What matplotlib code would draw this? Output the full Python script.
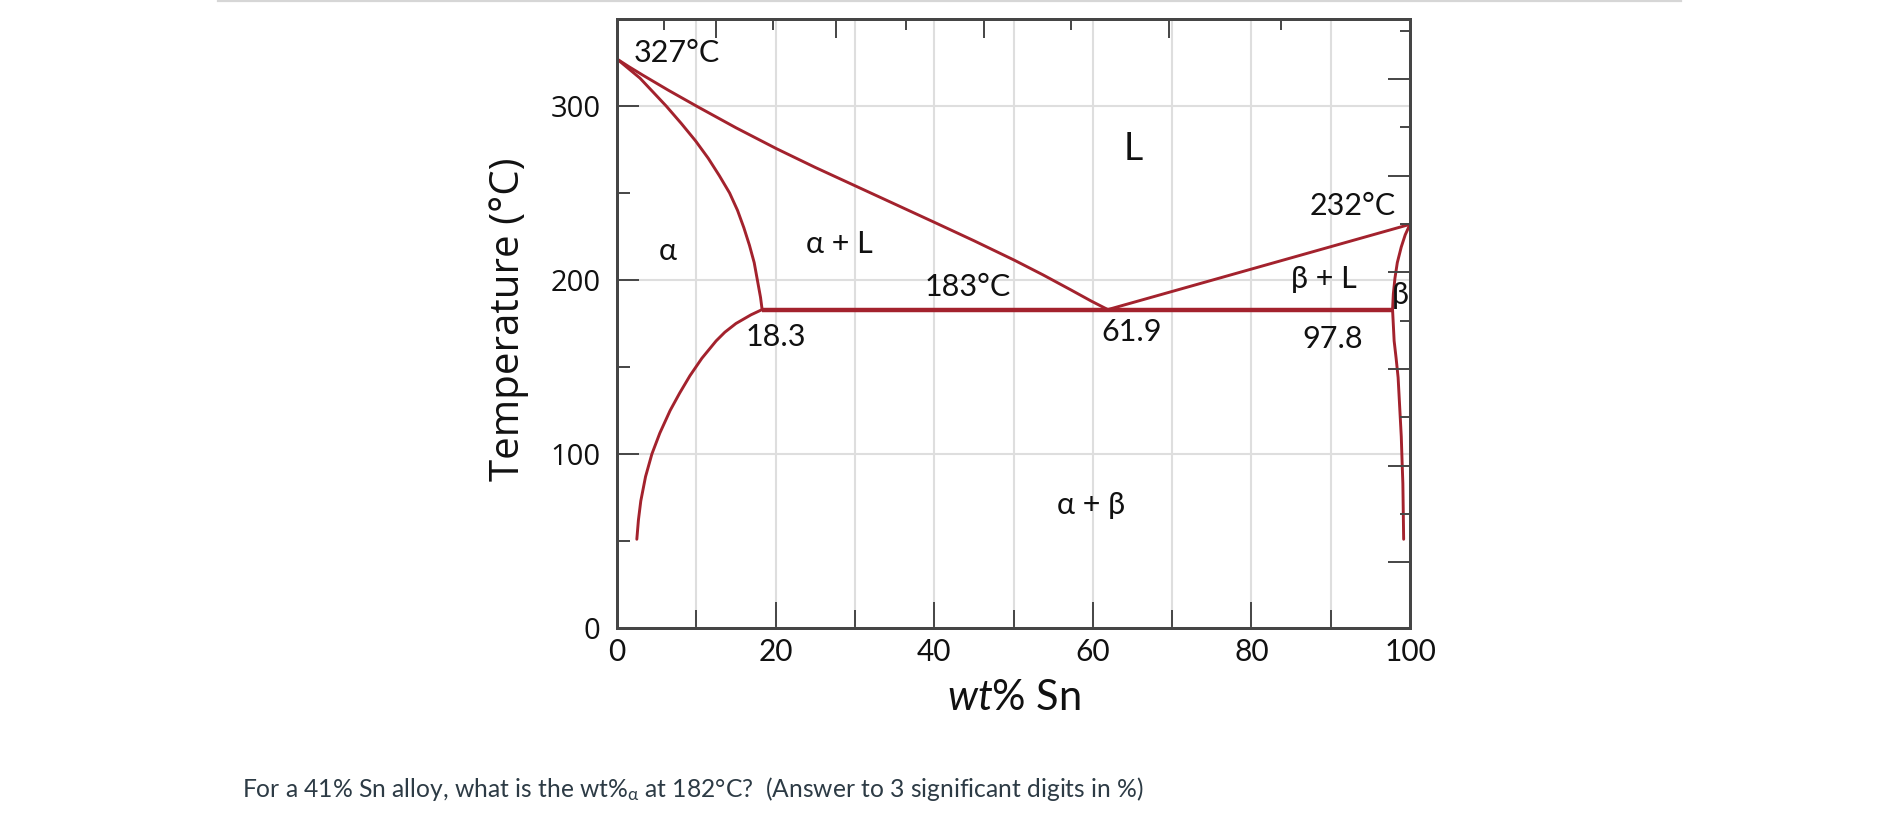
import matplotlib
matplotlib.use("Agg")
import matplotlib.pyplot as plt
from matplotlib.lines import Line2D

plt.rcParams['mathtext.fontset'] = 'custom'
plt.rcParams['mathtext.rm'] = 'Lato'
plt.rcParams['mathtext.it'] = 'Lato:italic'
plt.rcParams['mathtext.bf'] = 'Lato:bold'
plt.rcParams['mathtext.fallback'] = 'stixsans'

# Pb-Sn phase boundaries, (wt% Sn, temperature in C)
liq_left_x = [0, 1.5, 3.3, 6.5, 10.2, 15.0, 20.1, 25.0, 30.0, 35.0, 40.0, 45.0,
              50.1, 53.7, 57.2, 59.8, 61.9]
liq_left_t = [327, 322.6, 317.6, 309, 299.5, 287.5, 275.5, 264.7, 254.2, 243.7, 233.2, 222.6,
              211.4, 203, 194.4, 187.9, 183]
sol_left_x = [0, 2.9, 6.2, 8.1, 9.9, 11.5, 12.9, 14.2, 15.2, 16.0, 16.7, 17.3, 17.7, 18.1, 18.3]
sol_left_t = [327, 316, 300, 290, 280, 270, 260, 250, 240, 230, 220, 210, 200, 190, 183]
solv_left_x = [18.3, 16.9, 15.0, 13.6, 12.5, 10.7, 9.2, 7.9, 6.7, 5.4, 4.4, 3.6, 3.0, 2.7, 2.5]
solv_left_t = [183, 180, 175, 170, 165, 155, 145, 135, 125, 112, 100, 87, 73, 62, 51]
liq_right_x = [61.9, 100]
liq_right_t = [183, 232]
sol_right_x = [100, 99.4, 98.9, 98.4, 98.1, 97.9, 97.8]
sol_right_t = [232, 226, 219, 210, 201, 192, 183]
solv_right_x = [97.8, 97.9, 98.0, 98.25, 98.5, 98.7, 98.9, 99.0, 99.1, 99.2]
solv_right_t = [183, 174, 165, 155, 144, 127, 110, 96, 83, 51]
eutectic_x = [18.3, 97.8]
eutectic_t = [183, 183]

x_ticks = [0, 20, 40, 60, 80, 100]
y_ticks = [0, 100, 200, 300]
at_pct = [10, 20, 30, 40, 50, 60, 70, 80, 90]      # top axis, at% Sn
deg_f = [100, 150, 200, 250, 300, 350, 400, 450, 500, 550, 600, 650]  # right axis

question = ("For a 41% Sn alloy, what is the wt%$_{\\mathrm{\u03b1}}$ at 182\u00b0C?  "
            "(Answer to 3 significant digits in %)")

RED = '#a3222d'
SPINE = '#454545'
GRID = '#dedede'
TXT = '#111111'
LATO = ['Lato', 'DejaVu Sans']
OPEN = ['Open Sans', 'DejaVu Sans']


def wt_from_at(a):
    return a * 118.71 / (a * 118.71 + (100 - a) * 207.2)


fig = plt.figure(figsize=(18.89, 8.22), dpi=100)
W, H = 1889, 822
ax = fig.add_axes([617 / W, 1 - 628 / H, (1410 - 617) / W, (628 - 19) / H])
ax.set_xlim(0, 100)
ax.set_ylim(0, 350)

ax.set_xticks(x_ticks, [str(v) for v in x_ticks], fontfamily=LATO, fontsize=21.5, color=TXT)
ax.set_xticks(range(10, 100, 20), minor=True)
ax.set_yticks(y_ticks, [str(v) for v in y_ticks], fontfamily=OPEN, fontsize=21, color=TXT)
ax.set_yticks([50, 150, 250], minor=True)
ax.grid(True, which='both', axis='x', color=GRID, lw=1.5)
ax.grid(True, which='major', axis='y', color=GRID, lw=1.5)
ax.set_axisbelow(True)
ax.tick_params(axis='x', which='major', direction='in', length=18.7, width=1.4, color=SPINE, pad=7)
ax.tick_params(axis='x', which='minor', direction='in', length=12.7, width=1.4, color=SPINE)
ax.tick_params(axis='y', which='major', direction='in', length=15.8, width=1.4, color=SPINE, pad=12)
ax.tick_params(axis='y', which='minor', direction='in', length=9.4, width=1.4, color=SPINE)

# top: atomic percent ticks, right: Fahrenheit ticks (no labels)
ax_top = ax.twiny()
ax_top.set_xlim(0, 100)
ax_top.set_xticks([wt_from_at(a) * 100 for a in at_pct if a % 20 == 0])
ax_top.set_xticks([wt_from_at(a) * 100 for a in at_pct if a % 20 != 0], minor=True)
ax_top.tick_params(axis='x', which='major', direction='in', length=13.7, width=1.4,
                   color=SPINE, labeltop=False)
ax_top.tick_params(axis='x', which='minor', direction='in', length=8, width=1.4, color=SPINE)

ax_r = ax.twinx()
ax_r.set_ylim(0, 350)
ax_r.set_yticks([(f - 32) * 5 / 9 for f in deg_f if f % 100 == 0])
ax_r.set_yticks([(f - 32) * 5 / 9 for f in deg_f if f % 100 != 0], minor=True)
ax_r.tick_params(axis='y', which='major', direction='in', length=15.8, width=1.4,
                 color=SPINE, labelright=False)
ax_r.tick_params(axis='y', which='minor', direction='in', length=7.2, width=1.4, color=SPINE)

for a in (ax, ax_top, ax_r):
    for sp in a.spines.values():
        sp.set_color(SPINE)
        sp.set_linewidth(1.9)

for xs, ts in [(liq_left_x, liq_left_t), (sol_left_x, sol_left_t),
               (solv_left_x, solv_left_t), (liq_right_x, liq_right_t),
               (sol_right_x, sol_right_t), (solv_right_x, solv_right_t)]:
    ax.plot(xs, ts, color=RED, lw=2.1, solid_capstyle='round', solid_joinstyle='round', zorder=3)
ax.plot(eutectic_x, eutectic_t, color=RED, lw=3.2, solid_capstyle='butt', zorder=3)

region_labels = [
    ("327\u00b0C", 7.5, 325.5, 22),
    ("L", 65.1, 269, 27),
    ("\u03b1", 6.4, 211.7, 22),
    ("\u03b1 + L", 28.1, 215.6, 22),
    ("183\u00b0C", 44.2, 190.7, 22),
    ("18.3", 20.0, 162, 22),
    ("61.9", 64.9, 164.8, 22),
    ("97.8", 90.3, 161, 22),
    ("232\u00b0C", 92.75, 237.5, 22),
    ("\u03b2 + L", 89.1, 195.5, 22),
    ("\u03b2", 98.8, 186, 22),
    ("\u03b1 + \u03b2", 59.8, 65.4, 22),
]
for s, x, t, fs in region_labels:
    ax.text(x, t, s, ha='center', va='baseline', fontsize=fs, family=LATO, color=TXT, zorder=4)

fig.text(509 / W, 1 - 319.5 / H, "Temperature (\u00b0C)", rotation=90, ha='center',
         va='center', fontsize=29, family=OPEN, color=TXT)
fig.text(1014 / W, 1 - 710 / H, r"$\mathit{wt\%}$ Sn", ha='center', va='baseline',
         fontsize=30, family=LATO, color=TXT)

fig.text(241.5 / W, 1 - 797 / H, question, ha='left', va='baseline', fontsize=17.75,
         family=LATO, color='#2d3b45')

fig.add_artist(Line2D([218 / W, 1681 / W], [1 - 1 / H, 1 - 1 / H], transform=fig.transFigure,
                      color='#d6d6d6', lw=1.6))

fig.savefig('out.png', dpi=100)
